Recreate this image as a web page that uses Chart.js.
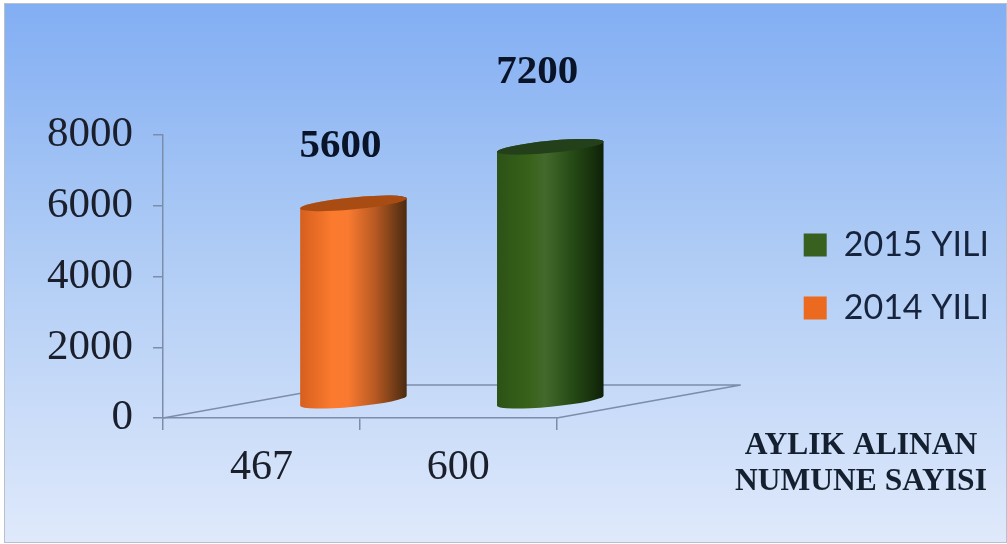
<!DOCTYPE html>
<html>
<head>
<meta charset="utf-8">
<title>Aylik alinan numune sayisi</title>
<script src="https://cdn.jsdelivr.net/npm/chart.js@4"></script>
<style>
  html, body { margin: 0; padding: 0; background: #fff; }
  canvas { display: block; }
</style>
</head>
<body>
<canvas id="chart" width="1007" height="544"></canvas>
<script>
  // --- Data ---
  const categories = ['467', '600'];
  const values2015 = [null, 7200];
  const values2014 = [5600, null];
  const yTicks = [0, 2000, 4000, 6000, 8000];
  const axisTitleLines = ['AYLIK ALINAN', 'NUMUNE SAYISI'];

  // --- Styles ---
  const GREEN_STOPS = [[0, '#2c5216'], [0.3, '#38621a'], [0.45, '#44692c'], [0.7, '#274b15'], [0.9, '#16300c'], [1, '#0e1f08']];
  const ORANGE_STOPS = [[0, '#d65f1e'], [0.3, '#fb7a2e'], [0.45, '#f97a30'], [0.7, '#b85a22'], [0.9, '#6d3a16'], [1, '#4a2a10']];
  const AXIS_COLOR = '#7b8dab';
  const DEPTH_X = 184;
  const DEPTH_Y = -33;

  // floor of the fake 3D box, sits behind the bars
  const floorPlugin = {
    id: 'floor',
    beforeDatasetsDraw(chart) {
      const { ctx, chartArea: a } = chart;
      ctx.save();
      ctx.strokeStyle = AXIS_COLOR;
      ctx.lineWidth = 1.5;
      ctx.beginPath();
      ctx.moveTo(a.left, a.bottom);
      ctx.lineTo(a.left + DEPTH_X, a.bottom + DEPTH_Y);
      ctx.lineTo(a.right + DEPTH_X, a.bottom + DEPTH_Y);
      ctx.lineTo(a.right, a.bottom);
      ctx.stroke();
      ctx.restore();
    }
  };

  // draws each bar element as a cylinder standing in the middle of the floor
  const cylinderPlugin = {
    id: 'cylinder',
    beforeDatasetDraw(chart, args) {
      const { ctx } = chart;
      const ds = chart.data.datasets[args.index];
      args.meta.data.forEach((bar, i) => {
        if (ds.data[i] == null) return;
        const cx = bar.x + DEPTH_X / 2;
        const top = bar.y + DEPTH_Y / 2;
        const bottom = bar.base + DEPTH_Y / 2;
        const halfW = bar.width / 2;
        const rot = -0.095;
        const ry = 6;

        const grad = ctx.createLinearGradient(cx - halfW, 0, cx + halfW, 0);
        ds.cylinderStops.forEach(s => grad.addColorStop(s[0], s[1]));

        ctx.save();
        ctx.beginPath();
        ctx.ellipse(cx, bottom, halfW, ry, rot, Math.PI, 0, true);
        ctx.ellipse(cx, top, halfW, ry, rot, 0, Math.PI, true);
        ctx.closePath();
        ctx.fillStyle = grad;
        ctx.fill();

        ctx.beginPath();
        ctx.ellipse(cx, top, halfW, ry, rot, 0, Math.PI * 2);
        ctx.fillStyle = ds.cylinderTop;
        ctx.fill();

        // value label over the bar
        ctx.font = 'bold 41px "Liberation Serif"';
        ctx.textAlign = 'center';
        ctx.textBaseline = 'middle';
        ctx.fillStyle = '#0a1428';
        ctx.fillText(String(ds.data[i]), cx - 13, top - ds.labelLift);
        ctx.restore();
      });
      return false;
    }
  };

  const backgroundPlugin = {
    id: 'panel',
    beforeDraw(chart) {
      const { ctx, width, height } = chart;
      ctx.save();
      ctx.fillStyle = '#ffffff';
      ctx.fillRect(0, 0, width, height);
      const grad = ctx.createLinearGradient(0, 4, 0, 541);
      grad.addColorStop(0, '#82aef3');
      grad.addColorStop(0.45, '#aecbf5');
      grad.addColorStop(1, '#dfe9fb');
      ctx.fillStyle = grad;
      ctx.fillRect(5, 4, width - 6, height - 6);
      ctx.strokeStyle = '#b9c0cc';
      ctx.lineWidth = 1;
      ctx.strokeRect(4.5, 3.5, width - 5, height - 5);
      ctx.restore();
    }
  };

  const axisTitlePlugin = {
    id: 'axisTitle',
    afterDraw(chart) {
      const { ctx } = chart;
      ctx.save();
      ctx.font = 'bold 31.5px "Liberation Serif"';
      ctx.textAlign = 'center';
      ctx.textBaseline = 'middle';
      ctx.fillStyle = '#14202f';
      ctx.fillText(axisTitleLines[0], 861, 446);
      ctx.fillText(axisTitleLines[1], 861, 482);
      ctx.restore();
    }
  };

  new Chart(document.getElementById('chart').getContext('2d'), {
    type: 'bar',
    data: {
      labels: categories,
      datasets: [
        { label: '2015 YILI', data: values2015, backgroundColor: '#38611f', cylinderStops: GREEN_STOPS, cylinderTop: '#23401a', labelLift: 74, barThickness: 107 },
        { label: '2014 YILI', data: values2014, backgroundColor: '#ec6a1f', cylinderStops: ORANGE_STOPS, cylinderTop: '#a84c14', labelLift: 57, barThickness: 107 }
      ]
    },
    options: {
      responsive: false,
      animation: false,
      layout: { padding: { top: 135, left: 0, right: 8, bottom: 0 } },
      scales: {
        x: {
          stacked: true,
          grid: { display: true, drawOnChartArea: false, offset: true, color: AXIS_COLOR, tickLength: 12, lineWidth: 1.5 },
          border: { color: AXIS_COLOR, width: 1.5 },
          ticks: { color: '#1a1f2b', font: { family: '"Liberation Serif"', size: 42 }, padding: 13, maxRotation: 0 },
          afterFit(scale) { scale.height = 126; }
        },
        y: {
          stacked: true,
          min: 0,
          max: 8000,
          afterBuildTicks(scale) { scale.ticks = yTicks.map(v => ({ value: v })); },
          grid: { display: true, drawOnChartArea: false, color: AXIS_COLOR, tickLength: 10, lineWidth: 1.5 },
          border: { color: AXIS_COLOR, width: 1.5 },
          ticks: { color: '#1a1f2b', font: { family: '"Liberation Serif"', size: 43 }, padding: 20, callback: v => String(v) },
          afterFit(scale) { scale.width = 163; }
        },
        // empty axis, keeps the room between the plot and the legend
        gap: {
          type: 'linear',
          position: 'right',
          grid: { display: false },
          border: { display: false },
          ticks: { display: false },
          afterFit(scale) { scale.width = 218; }
        }
      },
      plugins: {
        tooltip: { enabled: false },
        legend: {
          position: 'right',
          fullSize: false,
          maxWidth: 240,
          labels: {
            boxWidth: 23,
            boxHeight: 23,
            padding: 29,
            color: '#16233c',
            font: { family: 'Lato', size: 34 }
          }
        }
      }
    },
    plugins: [backgroundPlugin, floorPlugin, cylinderPlugin, axisTitlePlugin]
  });
</script>
</body>
</html>
